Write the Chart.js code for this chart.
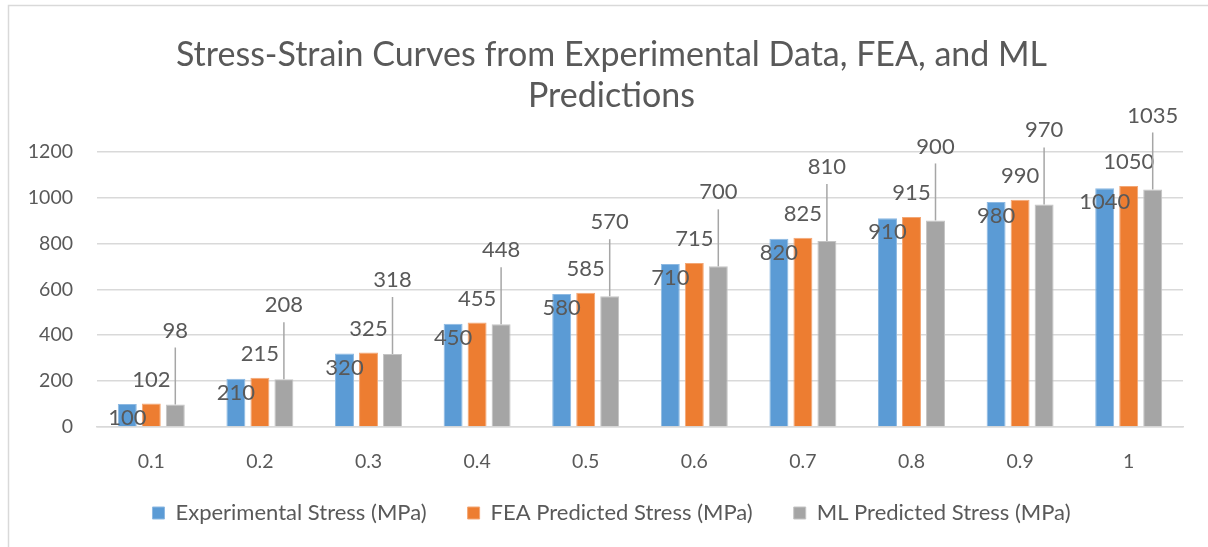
<!DOCTYPE html>
<html>
<head>
<meta charset="utf-8">
<script src="https://cdn.jsdelivr.net/npm/chart.js@4.4.1/dist/chart.umd.min.js"></script>
<style>
  html, body { margin: 0; padding: 0; background: #fff; }
  #wrap { width: 1208px; height: 547px; }
</style>
</head>
<body>
<div id="wrap"><canvas id="c" width="1208" height="547"></canvas></div>
<script>
// strain values (category axis)
var strains = ['0.1', '0.2', '0.3', '0.4', '0.5', '0.6', '0.7', '0.8', '0.9', '1'];

// stress series, MPa
var expStress = [100, 210, 320, 450, 580, 710, 820, 910, 980, 1040];
var feaStress = [102, 215, 325, 455, 585, 715, 825, 915, 990, 1050];
var mlStress  = [98, 208, 318, 448, 570, 700, 810, 900, 970, 1035];

var seriesNames = ['Experimental Stress (MPa)', 'FEA Predicted Stress (MPa)', 'ML Predicted Stress (MPa)'];
var yTicks = [0, 200, 400, 600, 800, 1000, 1200];

var FONT = 'Lato, "Open Sans", sans-serif';
var TEXT = '#595959';

// chart frame like the excel chart border
var framePlugin = {
	id: 'frame',
	afterLayout: function(chart){
		// excel centres title and legend a bit right of the plot; nudge them, and lift the legend
		var t = chart.titleBlock, l = chart.legend;
		if (t) { t.left += 20; t.right += 20; }
		if (l) { l.left += 20; l.right += 20; l.top -= 13; l.bottom -= 13; }
	},
	beforeDraw: function(chart){
		var ctx = chart.ctx;
		ctx.save();
		ctx.fillStyle = '#fff';
		ctx.fillRect(0, 0, chart.width, chart.height);
		ctx.strokeStyle = '#d9d9d9';
		ctx.lineWidth = 1.5;
		ctx.strokeRect(8.5, 5.5, chart.width + 20, chart.height + 20);
		ctx.restore();
	}
};

// data labels: experimental inside the top, FEA just above, ML high above with a leader line
var labelPlugin = {
	id: 'barLabels',
	afterDatasetsDraw: function(chart){
		var ctx = chart.ctx;
		ctx.save();
		ctx.font = '22px ' + FONT;
		ctx.fillStyle = TEXT;
		ctx.textAlign = 'center';
		ctx.textBaseline = 'middle';
		chart.data.datasets.forEach(function(ds, i){
			var meta = chart.getDatasetMeta(i);
			meta.data.forEach(function(bar, j){
				var txt = String(ds.data[j]);
				var x = bar.x, y = bar.y;
				if (i == 0) {
					ctx.fillText(txt, x, y + 14);
				} else if (i == 1) {
					ctx.fillText(txt, x, y - 24);
				} else {
					var ly = y - 74;
					ctx.strokeStyle = '#a6a6a6';
					ctx.lineWidth = 1.5;
					ctx.beginPath();
					ctx.moveTo(x, y);
					ctx.lineTo(x, ly + 17);
					ctx.stroke();
					ctx.fillText(txt, x, ly);
				}
			});
		});
		ctx.restore();
	}
};

var ctx = document.getElementById('c').getContext('2d');
var chart = new Chart(ctx, {
	type: 'bar',
	data: {
		labels: strains,
		datasets: [
			{ label: seriesNames[0], data: expStress, backgroundColor: '#5b9bd5', borderColor: '#8db9e2', borderWidth: 1 },
			{ label: seriesNames[1], data: feaStress, backgroundColor: '#ed7d31', borderColor: '#f3a775', borderWidth: 1 },
			{ label: seriesNames[2], data: mlStress,  backgroundColor: '#a5a5a5', borderColor: '#c4c4c4', borderWidth: 1 }
		]
	},
	options: {
		responsive: false,
		animation: false,
		events: [],
		layout: { padding: { left: 0, right: 25, top: 0, bottom: 0 } },
		datasets: { bar: { categoryPercentage: 0.663, barPercentage: 0.79 } },
		plugins: {
			title: {
				display: true,
				text: ['Stress-Strain Curves from Experimental Data, FEA, and ML', 'Predictions'],
				color: TEXT,
				font: { family: FONT, size: 34, weight: 'normal', lineHeight: 1.2 },
				padding: { top: 35, bottom: 35 }
			},
			legend: {
				position: 'bottom',
				labels: {
					color: TEXT,
					font: { family: FONT, size: 22 },
					boxWidth: 12,
					boxHeight: 12,
					padding: 41
				}
			},
			tooltip: { enabled: false }
		},
		scales: {
			x: {
				afterFit: function(scale){ scale.height = 47; },
				grid: { display: false, drawTicks: false },
				border: { display: true, color: '#d9d9d9', width: 1.5 },
				ticks: { color: TEXT, font: { family: FONT, size: 19.5 }, padding: 23 }
			},
			y: {
				min: 0,
				max: yTicks[yTicks.length - 1],
				afterFit: function(scale){ scale.width = 97; },
				afterBuildTicks: function(scale){
					scale.ticks = yTicks.map(function(v){ return { value: v }; });
				},
				grid: { color: '#d9d9d9', lineWidth: 1.5, drawTicks: false },
				border: { display: false },
				ticks: {
					color: TEXT, font: { family: FONT, size: 19.5 }, padding: 24,
					callback: function(v){ return String(v); }
				}
			}
		}
	},
	plugins: [framePlugin, labelPlugin]
});
</script>
</body>
</html>
